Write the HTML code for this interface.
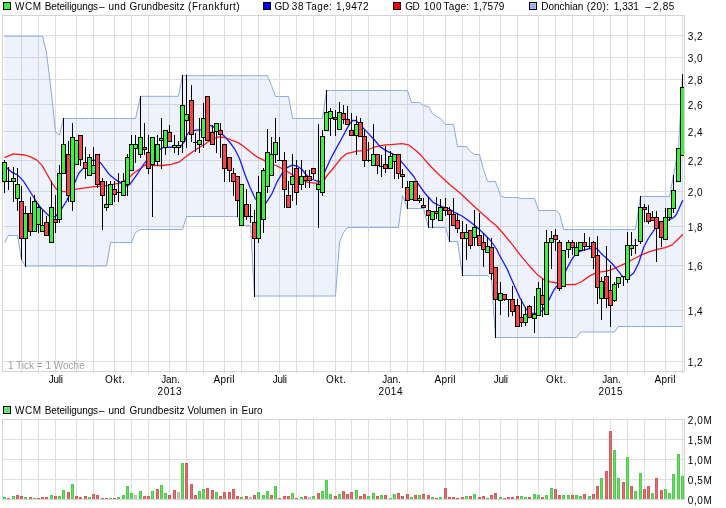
<!DOCTYPE html>
<html><head><meta charset="utf-8"><title>Chart</title><style>html,body{margin:0;padding:0;background:#fff}</style></head><body>
<svg width="726" height="508" viewBox="0 0 726 508" style="display:block;font-family:'Liberation Sans', Arial, sans-serif">
<rect width="726" height="508" fill="#fff"/>
<g shape-rendering="crispEdges" fill="#dedede">
<rect x="21" y="16" width="1" height="355"/>
<rect x="38" y="16" width="1" height="355"/>
<rect x="55" y="16" width="1" height="355"/>
<rect x="76" y="16" width="1" height="355"/>
<rect x="93" y="16" width="1" height="355"/>
<rect x="114" y="16" width="1" height="355"/>
<rect x="131" y="16" width="1" height="355"/>
<rect x="148" y="16" width="1" height="355"/>
<rect x="169" y="16" width="1" height="355"/>
<rect x="186" y="16" width="1" height="355"/>
<rect x="203" y="16" width="1" height="355"/>
<rect x="224" y="16" width="1" height="355"/>
<rect x="241" y="16" width="1" height="355"/>
<rect x="258" y="16" width="1" height="355"/>
<rect x="279" y="16" width="1" height="355"/>
<rect x="296" y="16" width="1" height="355"/>
<rect x="313" y="16" width="1" height="355"/>
<rect x="335" y="16" width="1" height="355"/>
<rect x="351" y="16" width="1" height="355"/>
<rect x="368" y="16" width="1" height="355"/>
<rect x="390" y="16" width="1" height="355"/>
<rect x="407" y="16" width="1" height="355"/>
<rect x="423" y="16" width="1" height="355"/>
<rect x="445" y="16" width="1" height="355"/>
<rect x="462" y="16" width="1" height="355"/>
<rect x="479" y="16" width="1" height="355"/>
<rect x="500" y="16" width="1" height="355"/>
<rect x="517" y="16" width="1" height="355"/>
<rect x="538" y="16" width="1" height="355"/>
<rect x="555" y="16" width="1" height="355"/>
<rect x="572" y="16" width="1" height="355"/>
<rect x="593" y="16" width="1" height="355"/>
<rect x="610" y="16" width="1" height="355"/>
<rect x="627" y="16" width="1" height="355"/>
<rect x="644" y="16" width="1" height="355"/>
<rect x="665" y="16" width="1" height="355"/>
<rect x="682" y="16" width="1" height="355"/>
<rect x="3" y="35" width="681" height="1"/>
<rect x="3" y="57" width="681" height="1"/>
<rect x="3" y="79" width="681" height="1"/>
<rect x="3" y="104" width="681" height="1"/>
<rect x="3" y="131" width="681" height="1"/>
<rect x="3" y="160" width="681" height="1"/>
<rect x="3" y="191" width="681" height="1"/>
<rect x="3" y="226" width="681" height="1"/>
<rect x="3" y="265" width="681" height="1"/>
<rect x="3" y="310" width="681" height="1"/>
<rect x="3" y="361" width="681" height="1"/>
<rect x="21" y="420" width="1" height="79"/>
<rect x="38" y="420" width="1" height="79"/>
<rect x="55" y="420" width="1" height="79"/>
<rect x="76" y="420" width="1" height="79"/>
<rect x="93" y="420" width="1" height="79"/>
<rect x="114" y="420" width="1" height="79"/>
<rect x="131" y="420" width="1" height="79"/>
<rect x="148" y="420" width="1" height="79"/>
<rect x="169" y="420" width="1" height="79"/>
<rect x="186" y="420" width="1" height="79"/>
<rect x="203" y="420" width="1" height="79"/>
<rect x="224" y="420" width="1" height="79"/>
<rect x="241" y="420" width="1" height="79"/>
<rect x="258" y="420" width="1" height="79"/>
<rect x="279" y="420" width="1" height="79"/>
<rect x="296" y="420" width="1" height="79"/>
<rect x="313" y="420" width="1" height="79"/>
<rect x="335" y="420" width="1" height="79"/>
<rect x="351" y="420" width="1" height="79"/>
<rect x="368" y="420" width="1" height="79"/>
<rect x="390" y="420" width="1" height="79"/>
<rect x="407" y="420" width="1" height="79"/>
<rect x="423" y="420" width="1" height="79"/>
<rect x="445" y="420" width="1" height="79"/>
<rect x="462" y="420" width="1" height="79"/>
<rect x="479" y="420" width="1" height="79"/>
<rect x="500" y="420" width="1" height="79"/>
<rect x="517" y="420" width="1" height="79"/>
<rect x="538" y="420" width="1" height="79"/>
<rect x="555" y="420" width="1" height="79"/>
<rect x="572" y="420" width="1" height="79"/>
<rect x="593" y="420" width="1" height="79"/>
<rect x="610" y="420" width="1" height="79"/>
<rect x="627" y="420" width="1" height="79"/>
<rect x="644" y="420" width="1" height="79"/>
<rect x="665" y="420" width="1" height="79"/>
<rect x="682" y="420" width="1" height="79"/>
<rect x="3" y="439" width="681" height="1"/>
<rect x="3" y="459" width="681" height="1"/>
<rect x="3" y="479" width="681" height="1"/>
</g>
<clipPath id="cp"><rect x="3" y="16" width="681" height="355"/></clipPath>
<g clip-path="url(#cp)">
<polygon points="4.5,36.2 8.5,36.2 13.5,36.2 17.5,36.2 21.5,36.2 25.5,36.2 30.5,36.2 34.5,36.2 38.5,36.2 42.5,36.2 46.5,52.6 51.5,94.0 55.5,131.8 59.5,135.1 63.5,118.5 68.5,118.5 72.5,118.5 76.5,118.5 80.5,118.5 85.5,118.5 89.5,118.5 93.5,118.5 97.5,118.5 102.5,118.5 106.5,118.5 110.5,118.5 114.5,118.5 118.5,118.5 123.5,118.5 127.5,118.5 131.5,118.5 135.5,118.5 140.5,96.3 144.5,96.3 148.5,96.3 152.5,96.3 157.5,96.3 161.5,96.3 165.5,96.3 169.5,96.3 174.5,96.3 178.5,96.3 182.5,75.7 186.5,75.7 191.5,75.7 195.5,75.7 199.5,75.7 203.5,75.7 207.5,75.7 212.5,75.7 216.5,75.7 220.5,75.7 224.5,75.7 229.5,75.7 233.5,75.7 237.5,75.7 241.5,75.7 246.5,75.7 250.5,75.7 254.5,75.7 258.5,75.7 263.5,75.7 267.5,75.7 271.5,85.5 275.5,96.5 279.5,96.5 284.5,96.5 288.5,96.5 292.5,118.5 296.5,118.5 301.5,118.5 305.5,118.5 309.5,118.5 313.5,118.5 318.5,118.5 322.5,118.5 326.5,90.5 330.5,90.5 335.5,90.5 339.5,90.5 343.5,90.5 347.5,90.5 351.5,90.5 356.5,90.5 360.5,90.5 364.5,90.5 368.5,90.5 373.5,90.5 377.5,90.5 381.5,90.5 385.5,90.5 390.5,90.5 394.5,90.5 398.5,90.5 402.5,90.5 407.5,90.5 411.5,102.5 415.5,102.5 419.5,102.5 423.5,105.5 428.5,106.5 432.5,113.5 436.5,116.5 440.5,118.5 445.5,124.5 449.5,124.5 453.5,124.5 457.5,146.5 462.5,146.5 466.5,146.5 470.5,151.5 474.5,154.5 479.5,154.5 483.5,169.5 487.5,181.5 491.5,181.5 495.5,181.5 500.5,195.5 504.5,197.5 508.5,197.5 512.5,197.5 517.5,197.5 521.5,198.5 525.5,198.5 529.5,198.5 534.5,198.5 538.5,210.5 542.5,210.5 546.5,210.5 551.5,210.5 555.5,210.5 559.5,213.5 563.5,229.5 568.5,229.5 572.5,229.5 576.5,229.5 580.5,229.5 584.5,229.5 589.5,229.5 593.5,229.5 597.5,229.5 601.5,229.5 606.5,229.5 610.5,229.5 614.5,229.5 618.5,229.5 623.5,229.5 627.5,229.5 631.5,229.5 635.5,229.5 640.5,196.5 644.5,196.5 648.5,196.5 652.5,196.5 656.5,196.5 661.5,196.5 665.5,196.5 669.5,196.5 673.5,175.5 678.5,148.5 682.5,74.5 682.5,326.5 678.5,326.5 673.5,326.5 669.5,326.5 665.5,326.5 661.5,326.5 656.5,326.5 652.5,326.5 648.5,326.5 644.5,326.5 640.5,326.5 635.5,326.5 631.5,326.5 627.5,326.5 623.5,326.5 618.5,326.5 614.5,332.0 610.5,332.0 606.5,332.0 601.5,332.0 597.5,332.0 593.5,332.0 589.5,332.0 584.5,332.0 580.5,332.0 576.5,337.5 572.5,337.5 568.5,337.5 563.5,337.5 559.5,337.5 555.5,337.5 551.5,337.5 546.5,337.5 542.5,337.5 538.5,337.5 534.5,337.5 529.5,337.5 525.5,337.5 521.5,337.5 517.5,337.5 512.5,337.5 508.5,337.5 504.5,337.5 500.5,337.5 495.5,337.5 491.5,279.5 487.5,275.5 483.5,275.5 479.5,275.5 474.5,275.5 470.5,275.5 466.5,275.5 462.5,275.5 457.5,241.5 453.5,241.5 449.5,241.5 445.5,227.5 440.5,227.5 436.5,227.5 432.5,227.5 428.5,227.5 423.5,208.5 419.5,208.5 415.5,208.5 411.5,208.5 407.5,208.5 402.5,195.5 398.5,227.5 394.5,227.5 390.5,227.5 385.5,227.5 381.5,227.5 377.5,227.5 373.5,227.5 368.5,227.5 364.5,227.5 360.5,227.5 356.5,227.5 351.5,227.5 347.5,227.5 343.5,232.5 339.5,242.5 335.5,296.0 330.5,296.0 326.5,296.0 322.5,296.0 318.5,296.0 313.5,296.0 309.5,296.0 305.5,296.0 301.5,296.0 296.5,296.0 292.5,296.0 288.5,296.0 284.5,296.0 279.5,296.0 275.5,296.0 271.5,296.0 267.5,296.0 263.5,296.0 258.5,296.0 254.5,296.0 250.5,225.5 246.5,225.5 241.5,225.5 237.5,216.5 233.5,216.5 229.5,216.5 224.5,216.5 220.5,216.5 216.5,216.5 212.5,216.5 207.5,216.5 203.5,216.5 199.5,216.5 195.5,216.5 191.5,216.5 186.5,216.5 182.5,229.5 178.5,229.5 174.5,229.5 169.5,229.5 165.5,229.5 161.5,229.5 157.5,229.5 152.5,229.5 148.5,229.5 144.5,229.5 140.5,229.5 135.5,232.5 131.5,242.5 127.5,242.5 123.5,242.5 118.5,242.5 114.5,242.5 110.5,242.5 106.5,266.0 102.5,266.0 97.5,266.0 93.5,266.0 89.5,266.0 85.5,266.0 80.5,266.0 76.5,266.0 72.5,266.0 68.5,266.0 63.5,266.0 59.5,266.0 55.5,266.0 51.5,266.0 46.5,266.0 42.5,266.0 38.5,266.0 34.5,266.0 30.5,266.0 25.5,266.0 21.5,259.5 17.5,235.5 13.5,235.5 8.5,235.5 4.5,242.7" fill="rgba(110,155,240,0.125)"/>
</g>
<g shape-rendering="crispEdges" fill="none" stroke="#d4d4d4" stroke-width="1">
<rect x="2.5" y="15.5" width="682" height="356"/>
<rect x="2.5" y="419.5" width="682" height="80"/>
</g>
<g shape-rendering="crispEdges" fill="#d4d4d4">
<rect x="21" y="372" width="1" height="1"/>
<rect x="38" y="372" width="1" height="1"/>
<rect x="55" y="372" width="1" height="1"/>
<rect x="76" y="372" width="1" height="1"/>
<rect x="93" y="372" width="1" height="1"/>
<rect x="114" y="372" width="1" height="1"/>
<rect x="131" y="372" width="1" height="1"/>
<rect x="148" y="372" width="1" height="1"/>
<rect x="169" y="372" width="1" height="1"/>
<rect x="186" y="372" width="1" height="1"/>
<rect x="203" y="372" width="1" height="1"/>
<rect x="224" y="372" width="1" height="1"/>
<rect x="241" y="372" width="1" height="1"/>
<rect x="258" y="372" width="1" height="1"/>
<rect x="279" y="372" width="1" height="1"/>
<rect x="296" y="372" width="1" height="1"/>
<rect x="313" y="372" width="1" height="1"/>
<rect x="335" y="372" width="1" height="1"/>
<rect x="351" y="372" width="1" height="1"/>
<rect x="368" y="372" width="1" height="1"/>
<rect x="390" y="372" width="1" height="1"/>
<rect x="407" y="372" width="1" height="1"/>
<rect x="423" y="372" width="1" height="1"/>
<rect x="445" y="372" width="1" height="1"/>
<rect x="462" y="372" width="1" height="1"/>
<rect x="479" y="372" width="1" height="1"/>
<rect x="500" y="372" width="1" height="1"/>
<rect x="517" y="372" width="1" height="1"/>
<rect x="538" y="372" width="1" height="1"/>
<rect x="555" y="372" width="1" height="1"/>
<rect x="572" y="372" width="1" height="1"/>
<rect x="593" y="372" width="1" height="1"/>
<rect x="610" y="372" width="1" height="1"/>
<rect x="627" y="372" width="1" height="1"/>
<rect x="644" y="372" width="1" height="1"/>
<rect x="665" y="372" width="1" height="1"/>
<rect x="682" y="372" width="1" height="1"/>
</g>
<g clip-path="url(#cp)">
<polyline points="4.5,36.2 8.5,36.2 13.5,36.2 17.5,36.2 21.5,36.2 25.5,36.2 30.5,36.2 34.5,36.2 38.5,36.2 42.5,36.2 46.5,52.6 51.5,94.0 55.5,131.8 59.5,135.1 63.5,118.5 68.5,118.5 72.5,118.5 76.5,118.5 80.5,118.5 85.5,118.5 89.5,118.5 93.5,118.5 97.5,118.5 102.5,118.5 106.5,118.5 110.5,118.5 114.5,118.5 118.5,118.5 123.5,118.5 127.5,118.5 131.5,118.5 135.5,118.5 140.5,96.3 144.5,96.3 148.5,96.3 152.5,96.3 157.5,96.3 161.5,96.3 165.5,96.3 169.5,96.3 174.5,96.3 178.5,96.3 182.5,75.7 186.5,75.7 191.5,75.7 195.5,75.7 199.5,75.7 203.5,75.7 207.5,75.7 212.5,75.7 216.5,75.7 220.5,75.7 224.5,75.7 229.5,75.7 233.5,75.7 237.5,75.7 241.5,75.7 246.5,75.7 250.5,75.7 254.5,75.7 258.5,75.7 263.5,75.7 267.5,75.7 271.5,85.5 275.5,96.5 279.5,96.5 284.5,96.5 288.5,96.5 292.5,118.5 296.5,118.5 301.5,118.5 305.5,118.5 309.5,118.5 313.5,118.5 318.5,118.5 322.5,118.5 326.5,90.5 330.5,90.5 335.5,90.5 339.5,90.5 343.5,90.5 347.5,90.5 351.5,90.5 356.5,90.5 360.5,90.5 364.5,90.5 368.5,90.5 373.5,90.5 377.5,90.5 381.5,90.5 385.5,90.5 390.5,90.5 394.5,90.5 398.5,90.5 402.5,90.5 407.5,90.5 411.5,102.5 415.5,102.5 419.5,102.5 423.5,105.5 428.5,106.5 432.5,113.5 436.5,116.5 440.5,118.5 445.5,124.5 449.5,124.5 453.5,124.5 457.5,146.5 462.5,146.5 466.5,146.5 470.5,151.5 474.5,154.5 479.5,154.5 483.5,169.5 487.5,181.5 491.5,181.5 495.5,181.5 500.5,195.5 504.5,197.5 508.5,197.5 512.5,197.5 517.5,197.5 521.5,198.5 525.5,198.5 529.5,198.5 534.5,198.5 538.5,210.5 542.5,210.5 546.5,210.5 551.5,210.5 555.5,210.5 559.5,213.5 563.5,229.5 568.5,229.5 572.5,229.5 576.5,229.5 580.5,229.5 584.5,229.5 589.5,229.5 593.5,229.5 597.5,229.5 601.5,229.5 606.5,229.5 610.5,229.5 614.5,229.5 618.5,229.5 623.5,229.5 627.5,229.5 631.5,229.5 635.5,229.5 640.5,196.5 644.5,196.5 648.5,196.5 652.5,196.5 656.5,196.5 661.5,196.5 665.5,196.5 669.5,196.5 673.5,175.5 678.5,148.5 682.5,74.5" fill="none" stroke="#8ea9e0" stroke-width="1"/>
<polyline points="4.5,242.7 8.5,235.5 13.5,235.5 17.5,235.5 21.5,259.5 25.5,266.0 30.5,266.0 34.5,266.0 38.5,266.0 42.5,266.0 46.5,266.0 51.5,266.0 55.5,266.0 59.5,266.0 63.5,266.0 68.5,266.0 72.5,266.0 76.5,266.0 80.5,266.0 85.5,266.0 89.5,266.0 93.5,266.0 97.5,266.0 102.5,266.0 106.5,266.0 110.5,242.5 114.5,242.5 118.5,242.5 123.5,242.5 127.5,242.5 131.5,242.5 135.5,232.5 140.5,229.5 144.5,229.5 148.5,229.5 152.5,229.5 157.5,229.5 161.5,229.5 165.5,229.5 169.5,229.5 174.5,229.5 178.5,229.5 182.5,229.5 186.5,216.5 191.5,216.5 195.5,216.5 199.5,216.5 203.5,216.5 207.5,216.5 212.5,216.5 216.5,216.5 220.5,216.5 224.5,216.5 229.5,216.5 233.5,216.5 237.5,216.5 241.5,225.5 246.5,225.5 250.5,225.5 254.5,296.0 258.5,296.0 263.5,296.0 267.5,296.0 271.5,296.0 275.5,296.0 279.5,296.0 284.5,296.0 288.5,296.0 292.5,296.0 296.5,296.0 301.5,296.0 305.5,296.0 309.5,296.0 313.5,296.0 318.5,296.0 322.5,296.0 326.5,296.0 330.5,296.0 335.5,296.0 339.5,242.5 343.5,232.5 347.5,227.5 351.5,227.5 356.5,227.5 360.5,227.5 364.5,227.5 368.5,227.5 373.5,227.5 377.5,227.5 381.5,227.5 385.5,227.5 390.5,227.5 394.5,227.5 398.5,227.5 402.5,195.5 407.5,208.5 411.5,208.5 415.5,208.5 419.5,208.5 423.5,208.5 428.5,227.5 432.5,227.5 436.5,227.5 440.5,227.5 445.5,227.5 449.5,241.5 453.5,241.5 457.5,241.5 462.5,275.5 466.5,275.5 470.5,275.5 474.5,275.5 479.5,275.5 483.5,275.5 487.5,275.5 491.5,279.5 495.5,337.5 500.5,337.5 504.5,337.5 508.5,337.5 512.5,337.5 517.5,337.5 521.5,337.5 525.5,337.5 529.5,337.5 534.5,337.5 538.5,337.5 542.5,337.5 546.5,337.5 551.5,337.5 555.5,337.5 559.5,337.5 563.5,337.5 568.5,337.5 572.5,337.5 576.5,337.5 580.5,332.0 584.5,332.0 589.5,332.0 593.5,332.0 597.5,332.0 601.5,332.0 606.5,332.0 610.5,332.0 614.5,332.0 618.5,326.5 623.5,326.5 627.5,326.5 631.5,326.5 635.5,326.5 640.5,326.5 644.5,326.5 648.5,326.5 652.5,326.5 656.5,326.5 661.5,326.5 665.5,326.5 669.5,326.5 673.5,326.5 678.5,326.5 682.5,326.5" fill="none" stroke="#8ea9e0" stroke-width="1"/>
<polyline points="4.5,157.6 13.3,153.8 25.0,155.0 30.0,156.6 36.6,159.9 42.1,165.4 47.6,175.3 52.0,183.1 56.4,189.1 60.0,191.0 63.6,191.7 66.4,191.7 76.3,189.1 87.0,187.7 92.8,186.9 108.8,185.3 113.3,184.3 120.5,182.9 124.9,180.4 130.4,176.3 134.8,172.2 139.8,169.1 145.3,165.0 154.5,165.5 162.8,165.5 171.2,164.3 179.6,161.8 187.9,155.1 196.3,149.2 204.7,144.2 211.4,139.5 218.1,137.0 224.8,137.5 231.5,140.2 238.1,142.6 241.8,145.1 250.2,151.8 256.9,156.8 263.6,160.1 270.3,163.5 277.0,166.0 283.7,169.3 290.4,173.5 295.4,176.9 300.4,179.7 308.4,182.3 316.7,183.4 321.8,182.6 325.1,178.5 328.5,173.7 333.5,168.0 336.8,163.6 341.8,157.5 346.9,153.6 356.9,151.2 366.9,150.4 372.0,148.0 376.0,146.6 383.7,145.2 393.7,144.4 402.1,143.6 408.8,144.9 415.5,150.2 421.0,155.3 429.3,165.0 438.5,174.2 450.2,185.1 460.3,193.2 470.3,202.7 480.3,211.9 490.4,221.1 496.1,225.5 503.6,234.0 512.0,244.2 520.3,255.1 528.7,265.2 537.1,274.4 543.8,279.4 550.5,281.9 557.2,283.0 566.8,284.7 575.2,284.5 581.8,281.5 590.3,275.6 596.9,272.3 606.9,271.1 615.3,268.2 623.7,264.2 632.1,259.7 640.4,255.4 648.8,251.8 657.2,249.3 665.3,247.7 672.0,244.9 677.0,240.2 682.8,234.3" fill="none" stroke="#ff1a1a" stroke-width="1.3" stroke-linejoin="round"/>
<polyline points="4.5,166.0 6.7,167.7 12.4,172.7 17.5,174.9 23.1,180.6 28.5,189.0 33.5,197.0 38.5,205.0 41.8,208.7 48.5,215.5 55.2,216.8 61.9,208.5 66.9,200.3 68.6,196.7 73.6,185.2 78.7,173.5 83.7,167.7 88.7,161.0 93.7,160.1 100.4,162.6 108.8,173.8 110.0,175.2 115.5,179.6 121.0,182.9 127.1,186.2 130.4,183.7 134.8,177.7 139.2,171.1 143.1,165.0 146.1,161.3 154.5,152.6 162.8,147.6 171.2,147.2 179.6,147.6 184.6,141.7 186.6,135.3 188.8,132.6 192.1,130.9 196.5,130.2 200.9,129.6 205.0,127.6 209.8,125.4 212.5,126.3 218.1,130.3 224.1,135.9 229.6,142.0 235.1,149.7 239.5,158.5 240.2,160.5 245.2,175.2 250.2,187.7 255.2,198.6 258.6,202.0 266.1,202.8 272.0,193.6 277.0,181.9 282.0,173.5 287.0,167.7 292.1,165.1 297.1,166.0 302.1,169.5 305.0,173.5 310.0,178.5 316.7,181.0 321.8,181.8 325.1,171.0 330.1,160.0 333.5,153.4 341.8,138.2 349.6,123.9 352.9,120.3 356.2,120.6 366.9,131.9 373.6,139.0 380.3,146.9 387.0,151.1 393.7,154.4 400.4,160.3 407.0,168.4 413.8,176.5 416.7,181.7 425.1,193.5 433.5,202.7 440.2,206.0 448.5,208.5 455.2,212.7 461.9,216.0 470.3,221.9 477.0,227.3 483.6,233.5 491.0,241.0 497.1,250.0 498.6,253.5 506.9,268.5 513.6,283.9 520.3,298.5 526.0,309.0 531.9,313.5 536.9,313.5 542.8,310.2 548.6,300.6 553.7,290.2 557.2,285.6 561.8,278.6 566.8,268.6 571.8,259.4 576.8,252.7 583.5,250.1 590.2,248.5 596.9,248.5 601.9,254.3 606.9,258.5 612.0,263.5 617.0,269.4 622.6,276.7 628.7,277.0 633.7,273.0 638.7,263.0 643.8,247.0 648.6,238.0 655.3,228.4 661.9,221.8 669.4,219.6 673.1,218.0 675.8,215.2 678.6,209.6 681.3,203.4 682.8,200.3" fill="none" stroke="#1a1aff" stroke-width="1.3" stroke-linejoin="round"/>
</g>
<g shape-rendering="crispEdges" clip-path="url(#cp2)">
<clipPath id="cp2"><rect x="2" y="15" width="682" height="357"/></clipPath>
<rect x="4" y="160" width="1" height="33" fill="#000"/>
<rect x="2" y="162" width="5" height="20" fill="#000"/>
<rect x="3" y="163" width="3" height="18" fill="#3cf23c"/>
<rect x="8" y="167" width="1" height="23" fill="#000"/>
<rect x="6" y="181" width="5" height="1" fill="#000"/>
<rect x="13" y="167" width="1" height="35" fill="#000"/>
<rect x="11" y="178" width="5" height="4" fill="#000"/>
<rect x="12" y="179" width="3" height="2" fill="#3cf23c"/>
<rect x="17" y="168" width="1" height="43" fill="#000"/>
<rect x="15" y="184" width="5" height="15" fill="#000"/>
<rect x="16" y="185" width="3" height="13" fill="#3cf23c"/>
<rect x="21" y="186" width="1" height="74" fill="#000"/>
<rect x="19" y="201" width="5" height="38" fill="#000"/>
<rect x="20" y="202" width="3" height="36" fill="#f84444"/>
<rect x="25" y="206" width="1" height="61" fill="#000"/>
<rect x="23" y="213" width="5" height="26" fill="#000"/>
<rect x="24" y="214" width="3" height="24" fill="#3cf23c"/>
<rect x="30" y="197" width="1" height="39" fill="#000"/>
<rect x="28" y="213" width="5" height="19" fill="#000"/>
<rect x="29" y="214" width="3" height="17" fill="#f84444"/>
<rect x="34" y="195" width="1" height="37" fill="#000"/>
<rect x="32" y="201" width="5" height="31" fill="#000"/>
<rect x="33" y="202" width="3" height="29" fill="#3cf23c"/>
<rect x="38" y="204" width="1" height="29" fill="#000"/>
<rect x="36" y="207" width="5" height="18" fill="#000"/>
<rect x="37" y="208" width="3" height="16" fill="#3cf23c"/>
<rect x="42" y="210" width="1" height="22" fill="#000"/>
<rect x="40" y="225" width="5" height="7" fill="#000"/>
<rect x="41" y="226" width="3" height="5" fill="#3cf23c"/>
<rect x="46" y="216" width="1" height="20" fill="#000"/>
<rect x="44" y="222" width="5" height="14" fill="#000"/>
<rect x="45" y="223" width="3" height="12" fill="#f84444"/>
<rect x="51" y="181" width="1" height="62" fill="#000"/>
<rect x="49" y="207" width="5" height="36" fill="#000"/>
<rect x="50" y="208" width="3" height="34" fill="#3cf23c"/>
<rect x="55" y="195" width="1" height="38" fill="#000"/>
<rect x="53" y="219" width="5" height="4" fill="#000"/>
<rect x="54" y="220" width="3" height="2" fill="#f84444"/>
<rect x="59" y="165" width="1" height="58" fill="#000"/>
<rect x="57" y="173" width="5" height="47" fill="#000"/>
<rect x="58" y="174" width="3" height="45" fill="#3cf23c"/>
<rect x="63" y="118" width="1" height="56" fill="#000"/>
<rect x="61" y="144" width="5" height="30" fill="#000"/>
<rect x="62" y="145" width="3" height="28" fill="#3cf23c"/>
<rect x="68" y="141" width="1" height="61" fill="#000"/>
<rect x="66" y="154" width="5" height="42" fill="#000"/>
<rect x="67" y="155" width="3" height="40" fill="#f84444"/>
<rect x="72" y="123" width="1" height="88" fill="#000"/>
<rect x="70" y="137" width="5" height="65" fill="#000"/>
<rect x="71" y="138" width="3" height="63" fill="#3cf23c"/>
<rect x="76" y="140" width="1" height="25" fill="#000"/>
<rect x="74" y="140" width="5" height="25" fill="#000"/>
<rect x="75" y="141" width="3" height="23" fill="#3cf23c"/>
<rect x="80" y="135" width="1" height="31" fill="#000"/>
<rect x="78" y="135" width="5" height="25" fill="#000"/>
<rect x="79" y="136" width="3" height="23" fill="#f84444"/>
<rect x="85" y="147" width="1" height="32" fill="#000"/>
<rect x="83" y="162" width="5" height="7" fill="#000"/>
<rect x="84" y="163" width="3" height="5" fill="#f84444"/>
<rect x="89" y="154" width="1" height="22" fill="#000"/>
<rect x="87" y="157" width="5" height="19" fill="#000"/>
<rect x="88" y="158" width="3" height="17" fill="#3cf23c"/>
<rect x="93" y="147" width="1" height="27" fill="#000"/>
<rect x="91" y="165" width="5" height="9" fill="#000"/>
<rect x="92" y="166" width="3" height="7" fill="#3cf23c"/>
<rect x="97" y="154" width="1" height="34" fill="#000"/>
<rect x="95" y="154" width="5" height="31" fill="#000"/>
<rect x="96" y="155" width="3" height="29" fill="#f84444"/>
<rect x="102" y="178" width="1" height="52" fill="#000"/>
<rect x="100" y="181" width="5" height="15" fill="#000"/>
<rect x="101" y="182" width="3" height="13" fill="#f84444"/>
<rect x="106" y="181" width="1" height="30" fill="#000"/>
<rect x="104" y="204" width="5" height="4" fill="#000"/>
<rect x="105" y="205" width="3" height="2" fill="#3cf23c"/>
<rect x="110" y="181" width="1" height="24" fill="#000"/>
<rect x="108" y="184" width="5" height="21" fill="#000"/>
<rect x="109" y="185" width="3" height="19" fill="#3cf23c"/>
<rect x="114" y="181" width="1" height="21" fill="#000"/>
<rect x="112" y="189" width="5" height="6" fill="#000"/>
<rect x="113" y="190" width="3" height="4" fill="#f84444"/>
<rect x="118" y="173" width="1" height="29" fill="#000"/>
<rect x="116" y="192" width="5" height="1" fill="#000"/>
<rect x="123" y="173" width="1" height="23" fill="#000"/>
<rect x="121" y="181" width="5" height="15" fill="#000"/>
<rect x="122" y="182" width="3" height="13" fill="#3cf23c"/>
<rect x="127" y="154" width="1" height="42" fill="#000"/>
<rect x="125" y="157" width="5" height="28" fill="#000"/>
<rect x="126" y="158" width="3" height="26" fill="#3cf23c"/>
<rect x="131" y="135" width="1" height="36" fill="#000"/>
<rect x="129" y="144" width="5" height="27" fill="#000"/>
<rect x="130" y="145" width="3" height="25" fill="#3cf23c"/>
<rect x="135" y="135" width="1" height="28" fill="#000"/>
<rect x="133" y="144" width="5" height="5" fill="#000"/>
<rect x="134" y="145" width="3" height="3" fill="#3cf23c"/>
<rect x="140" y="96" width="1" height="62" fill="#000"/>
<rect x="138" y="137" width="5" height="18" fill="#000"/>
<rect x="139" y="138" width="3" height="16" fill="#3cf23c"/>
<rect x="144" y="123" width="1" height="32" fill="#000"/>
<rect x="142" y="147" width="5" height="3" fill="#000"/>
<rect x="143" y="148" width="3" height="1" fill="#f84444"/>
<rect x="148" y="135" width="1" height="39" fill="#000"/>
<rect x="146" y="152" width="5" height="17" fill="#000"/>
<rect x="147" y="153" width="3" height="15" fill="#f84444"/>
<rect x="152" y="137" width="1" height="80" fill="#000"/>
<rect x="150" y="137" width="5" height="28" fill="#000"/>
<rect x="151" y="138" width="3" height="26" fill="#3cf23c"/>
<rect x="157" y="135" width="1" height="31" fill="#000"/>
<rect x="155" y="144" width="5" height="18" fill="#000"/>
<rect x="156" y="145" width="3" height="16" fill="#3cf23c"/>
<rect x="161" y="118" width="1" height="51" fill="#000"/>
<rect x="159" y="138" width="5" height="3" fill="#000"/>
<rect x="160" y="139" width="3" height="1" fill="#3cf23c"/>
<rect x="165" y="130" width="1" height="25" fill="#000"/>
<rect x="163" y="130" width="5" height="18" fill="#000"/>
<rect x="164" y="131" width="3" height="16" fill="#3cf23c"/>
<rect x="169" y="125" width="1" height="17" fill="#000"/>
<rect x="167" y="132" width="5" height="10" fill="#000"/>
<rect x="168" y="133" width="3" height="8" fill="#f84444"/>
<rect x="174" y="135" width="1" height="18" fill="#000"/>
<rect x="172" y="145" width="5" height="3" fill="#000"/>
<rect x="173" y="146" width="3" height="1" fill="#3cf23c"/>
<rect x="178" y="141" width="1" height="14" fill="#000"/>
<rect x="176" y="145" width="5" height="3" fill="#000"/>
<rect x="177" y="146" width="3" height="1" fill="#3cf23c"/>
<rect x="182" y="75" width="1" height="78" fill="#000"/>
<rect x="180" y="105" width="5" height="37" fill="#000"/>
<rect x="181" y="106" width="3" height="35" fill="#3cf23c"/>
<rect x="186" y="75" width="1" height="73" fill="#000"/>
<rect x="184" y="114" width="5" height="7" fill="#000"/>
<rect x="185" y="115" width="3" height="5" fill="#3cf23c"/>
<rect x="191" y="85" width="1" height="57" fill="#000"/>
<rect x="189" y="100" width="5" height="35" fill="#000"/>
<rect x="190" y="101" width="3" height="33" fill="#f84444"/>
<rect x="195" y="133" width="1" height="19" fill="#000"/>
<rect x="193" y="142" width="5" height="1" fill="#000"/>
<rect x="199" y="118" width="1" height="35" fill="#000"/>
<rect x="197" y="140" width="5" height="5" fill="#000"/>
<rect x="198" y="141" width="3" height="3" fill="#3cf23c"/>
<rect x="203" y="103" width="1" height="45" fill="#000"/>
<rect x="201" y="118" width="5" height="20" fill="#000"/>
<rect x="202" y="119" width="3" height="18" fill="#3cf23c"/>
<rect x="207" y="96" width="1" height="45" fill="#000"/>
<rect x="205" y="96" width="5" height="45" fill="#000"/>
<rect x="206" y="97" width="3" height="43" fill="#f84444"/>
<rect x="212" y="125" width="1" height="20" fill="#000"/>
<rect x="210" y="132" width="5" height="13" fill="#000"/>
<rect x="211" y="133" width="3" height="11" fill="#f84444"/>
<rect x="216" y="123" width="1" height="30" fill="#000"/>
<rect x="214" y="123" width="5" height="9" fill="#000"/>
<rect x="215" y="124" width="3" height="7" fill="#3cf23c"/>
<rect x="220" y="123" width="1" height="35" fill="#000"/>
<rect x="218" y="130" width="5" height="5" fill="#000"/>
<rect x="219" y="131" width="3" height="3" fill="#f84444"/>
<rect x="224" y="144" width="1" height="38" fill="#000"/>
<rect x="222" y="144" width="5" height="25" fill="#000"/>
<rect x="223" y="145" width="3" height="23" fill="#f84444"/>
<rect x="229" y="157" width="1" height="25" fill="#000"/>
<rect x="227" y="157" width="5" height="14" fill="#000"/>
<rect x="228" y="158" width="3" height="12" fill="#f84444"/>
<rect x="233" y="168" width="1" height="28" fill="#000"/>
<rect x="231" y="173" width="5" height="9" fill="#000"/>
<rect x="232" y="174" width="3" height="7" fill="#f84444"/>
<rect x="237" y="176" width="1" height="41" fill="#000"/>
<rect x="235" y="176" width="5" height="25" fill="#000"/>
<rect x="236" y="177" width="3" height="23" fill="#f84444"/>
<rect x="241" y="184" width="1" height="42" fill="#000"/>
<rect x="239" y="184" width="5" height="42" fill="#000"/>
<rect x="240" y="185" width="3" height="40" fill="#3cf23c"/>
<rect x="246" y="189" width="1" height="31" fill="#000"/>
<rect x="244" y="204" width="5" height="13" fill="#000"/>
<rect x="245" y="205" width="3" height="11" fill="#f84444"/>
<rect x="250" y="204" width="1" height="19" fill="#000"/>
<rect x="248" y="216" width="5" height="1" fill="#000"/>
<rect x="254" y="210" width="1" height="87" fill="#000"/>
<rect x="252" y="222" width="5" height="17" fill="#000"/>
<rect x="253" y="223" width="3" height="15" fill="#f84444"/>
<rect x="258" y="176" width="1" height="67" fill="#000"/>
<rect x="256" y="192" width="5" height="47" fill="#000"/>
<rect x="257" y="193" width="3" height="45" fill="#3cf23c"/>
<rect x="263" y="168" width="1" height="65" fill="#000"/>
<rect x="261" y="170" width="5" height="50" fill="#000"/>
<rect x="262" y="171" width="3" height="48" fill="#3cf23c"/>
<rect x="267" y="129" width="1" height="64" fill="#000"/>
<rect x="265" y="152" width="5" height="35" fill="#000"/>
<rect x="266" y="153" width="3" height="33" fill="#3cf23c"/>
<rect x="271" y="137" width="1" height="39" fill="#000"/>
<rect x="269" y="154" width="5" height="22" fill="#000"/>
<rect x="270" y="155" width="3" height="20" fill="#3cf23c"/>
<rect x="275" y="118" width="1" height="45" fill="#000"/>
<rect x="273" y="142" width="5" height="13" fill="#000"/>
<rect x="274" y="143" width="3" height="11" fill="#3cf23c"/>
<rect x="279" y="137" width="1" height="24" fill="#000"/>
<rect x="277" y="160" width="5" height="1" fill="#000"/>
<rect x="284" y="152" width="1" height="56" fill="#000"/>
<rect x="282" y="160" width="5" height="30" fill="#000"/>
<rect x="283" y="161" width="3" height="28" fill="#f84444"/>
<rect x="288" y="181" width="1" height="27" fill="#000"/>
<rect x="286" y="195" width="5" height="13" fill="#000"/>
<rect x="287" y="196" width="3" height="11" fill="#f84444"/>
<rect x="292" y="154" width="1" height="47" fill="#000"/>
<rect x="290" y="176" width="5" height="9" fill="#000"/>
<rect x="291" y="177" width="3" height="7" fill="#3cf23c"/>
<rect x="296" y="160" width="1" height="45" fill="#000"/>
<rect x="294" y="168" width="5" height="25" fill="#000"/>
<rect x="295" y="169" width="3" height="23" fill="#f84444"/>
<rect x="301" y="160" width="1" height="30" fill="#000"/>
<rect x="299" y="176" width="5" height="9" fill="#000"/>
<rect x="300" y="177" width="3" height="7" fill="#3cf23c"/>
<rect x="305" y="170" width="1" height="18" fill="#000"/>
<rect x="303" y="176" width="5" height="5" fill="#000"/>
<rect x="304" y="177" width="3" height="3" fill="#f84444"/>
<rect x="309" y="170" width="1" height="18" fill="#000"/>
<rect x="307" y="176" width="5" height="5" fill="#000"/>
<rect x="308" y="177" width="3" height="3" fill="#f84444"/>
<rect x="313" y="168" width="1" height="11" fill="#000"/>
<rect x="311" y="168" width="5" height="6" fill="#000"/>
<rect x="312" y="169" width="3" height="4" fill="#f84444"/>
<rect x="318" y="124" width="1" height="104" fill="#000"/>
<rect x="316" y="184" width="5" height="6" fill="#000"/>
<rect x="317" y="185" width="3" height="4" fill="#3cf23c"/>
<rect x="322" y="130" width="1" height="66" fill="#000"/>
<rect x="320" y="136" width="5" height="57" fill="#000"/>
<rect x="321" y="137" width="3" height="55" fill="#3cf23c"/>
<rect x="326" y="90" width="1" height="41" fill="#000"/>
<rect x="324" y="112" width="5" height="19" fill="#000"/>
<rect x="325" y="113" width="3" height="17" fill="#3cf23c"/>
<rect x="330" y="108" width="1" height="28" fill="#000"/>
<rect x="328" y="111" width="5" height="8" fill="#000"/>
<rect x="329" y="112" width="3" height="6" fill="#3cf23c"/>
<rect x="335" y="110" width="1" height="26" fill="#000"/>
<rect x="333" y="117" width="5" height="3" fill="#000"/>
<rect x="334" y="118" width="3" height="1" fill="#f84444"/>
<rect x="339" y="102" width="1" height="28" fill="#000"/>
<rect x="337" y="112" width="5" height="18" fill="#000"/>
<rect x="338" y="113" width="3" height="16" fill="#3cf23c"/>
<rect x="343" y="105" width="1" height="19" fill="#000"/>
<rect x="341" y="113" width="5" height="7" fill="#000"/>
<rect x="342" y="114" width="3" height="5" fill="#f84444"/>
<rect x="347" y="106" width="1" height="19" fill="#000"/>
<rect x="345" y="119" width="5" height="6" fill="#000"/>
<rect x="346" y="120" width="3" height="4" fill="#f84444"/>
<rect x="351" y="113" width="1" height="23" fill="#000"/>
<rect x="349" y="130" width="5" height="6" fill="#000"/>
<rect x="350" y="131" width="3" height="4" fill="#f84444"/>
<rect x="356" y="116" width="1" height="39" fill="#000"/>
<rect x="354" y="124" width="5" height="12" fill="#000"/>
<rect x="355" y="125" width="3" height="10" fill="#3cf23c"/>
<rect x="360" y="118" width="1" height="19" fill="#000"/>
<rect x="358" y="122" width="5" height="15" fill="#000"/>
<rect x="359" y="123" width="3" height="13" fill="#f84444"/>
<rect x="364" y="130" width="1" height="37" fill="#000"/>
<rect x="362" y="136" width="5" height="25" fill="#000"/>
<rect x="363" y="137" width="3" height="23" fill="#f84444"/>
<rect x="368" y="142" width="1" height="20" fill="#000"/>
<rect x="366" y="160" width="5" height="1" fill="#000"/>
<rect x="373" y="124" width="1" height="42" fill="#000"/>
<rect x="371" y="154" width="5" height="12" fill="#000"/>
<rect x="372" y="155" width="3" height="10" fill="#3cf23c"/>
<rect x="377" y="154" width="1" height="20" fill="#000"/>
<rect x="375" y="154" width="5" height="12" fill="#000"/>
<rect x="376" y="155" width="3" height="10" fill="#f84444"/>
<rect x="381" y="155" width="1" height="22" fill="#000"/>
<rect x="379" y="166" width="5" height="1" fill="#000"/>
<rect x="385" y="146" width="1" height="27" fill="#000"/>
<rect x="383" y="164" width="5" height="5" fill="#000"/>
<rect x="384" y="165" width="3" height="3" fill="#f84444"/>
<rect x="390" y="151" width="1" height="18" fill="#000"/>
<rect x="388" y="156" width="5" height="13" fill="#000"/>
<rect x="389" y="157" width="3" height="11" fill="#3cf23c"/>
<rect x="394" y="154" width="1" height="25" fill="#000"/>
<rect x="392" y="154" width="5" height="8" fill="#000"/>
<rect x="393" y="155" width="3" height="6" fill="#3cf23c"/>
<rect x="398" y="154" width="1" height="25" fill="#000"/>
<rect x="396" y="154" width="5" height="20" fill="#000"/>
<rect x="397" y="155" width="3" height="18" fill="#f84444"/>
<rect x="402" y="169" width="1" height="19" fill="#000"/>
<rect x="400" y="174" width="5" height="3" fill="#000"/>
<rect x="401" y="175" width="3" height="1" fill="#f84444"/>
<rect x="407" y="181" width="1" height="28" fill="#000"/>
<rect x="405" y="187" width="5" height="14" fill="#000"/>
<rect x="406" y="188" width="3" height="12" fill="#f84444"/>
<rect x="411" y="181" width="1" height="19" fill="#000"/>
<rect x="409" y="181" width="5" height="19" fill="#000"/>
<rect x="410" y="182" width="3" height="17" fill="#3cf23c"/>
<rect x="415" y="181" width="1" height="20" fill="#000"/>
<rect x="413" y="181" width="5" height="20" fill="#000"/>
<rect x="414" y="182" width="3" height="18" fill="#f84444"/>
<rect x="419" y="195" width="1" height="8" fill="#000"/>
<rect x="417" y="198" width="5" height="3" fill="#000"/>
<rect x="418" y="199" width="3" height="1" fill="#3cf23c"/>
<rect x="423" y="198" width="1" height="9" fill="#000"/>
<rect x="421" y="205" width="5" height="3" fill="#000"/>
<rect x="422" y="206" width="3" height="1" fill="#f84444"/>
<rect x="428" y="197" width="1" height="31" fill="#000"/>
<rect x="426" y="210" width="5" height="6" fill="#000"/>
<rect x="427" y="211" width="3" height="4" fill="#f84444"/>
<rect x="432" y="211" width="1" height="17" fill="#000"/>
<rect x="430" y="211" width="5" height="9" fill="#000"/>
<rect x="431" y="212" width="3" height="7" fill="#3cf23c"/>
<rect x="436" y="197" width="1" height="22" fill="#000"/>
<rect x="434" y="211" width="5" height="3" fill="#000"/>
<rect x="435" y="212" width="3" height="1" fill="#f84444"/>
<rect x="440" y="199" width="1" height="22" fill="#000"/>
<rect x="438" y="207" width="5" height="14" fill="#000"/>
<rect x="439" y="208" width="3" height="12" fill="#3cf23c"/>
<rect x="445" y="198" width="1" height="18" fill="#000"/>
<rect x="443" y="207" width="5" height="4" fill="#000"/>
<rect x="444" y="208" width="3" height="2" fill="#f84444"/>
<rect x="449" y="207" width="1" height="35" fill="#000"/>
<rect x="447" y="210" width="5" height="5" fill="#000"/>
<rect x="448" y="211" width="3" height="3" fill="#f84444"/>
<rect x="453" y="198" width="1" height="28" fill="#000"/>
<rect x="451" y="214" width="5" height="12" fill="#000"/>
<rect x="452" y="215" width="3" height="10" fill="#f84444"/>
<rect x="457" y="213" width="1" height="20" fill="#000"/>
<rect x="455" y="220" width="5" height="9" fill="#000"/>
<rect x="456" y="221" width="3" height="7" fill="#f84444"/>
<rect x="462" y="221" width="1" height="55" fill="#000"/>
<rect x="460" y="232" width="5" height="7" fill="#000"/>
<rect x="461" y="233" width="3" height="5" fill="#f84444"/>
<rect x="466" y="224" width="1" height="36" fill="#000"/>
<rect x="464" y="232" width="5" height="7" fill="#000"/>
<rect x="465" y="233" width="3" height="5" fill="#3cf23c"/>
<rect x="470" y="230" width="1" height="19" fill="#000"/>
<rect x="468" y="230" width="5" height="16" fill="#000"/>
<rect x="469" y="231" width="3" height="14" fill="#f84444"/>
<rect x="474" y="210" width="1" height="36" fill="#000"/>
<rect x="472" y="227" width="5" height="11" fill="#000"/>
<rect x="473" y="228" width="3" height="9" fill="#3cf23c"/>
<rect x="479" y="213" width="1" height="33" fill="#000"/>
<rect x="477" y="235" width="5" height="11" fill="#000"/>
<rect x="478" y="236" width="3" height="9" fill="#f84444"/>
<rect x="483" y="233" width="1" height="34" fill="#000"/>
<rect x="481" y="242" width="5" height="8" fill="#000"/>
<rect x="482" y="243" width="3" height="6" fill="#f84444"/>
<rect x="487" y="237" width="1" height="16" fill="#000"/>
<rect x="485" y="246" width="5" height="7" fill="#000"/>
<rect x="486" y="247" width="3" height="5" fill="#3cf23c"/>
<rect x="491" y="238" width="1" height="42" fill="#000"/>
<rect x="489" y="247" width="5" height="27" fill="#000"/>
<rect x="490" y="248" width="3" height="25" fill="#f84444"/>
<rect x="495" y="267" width="1" height="71" fill="#000"/>
<rect x="493" y="267" width="5" height="33" fill="#000"/>
<rect x="494" y="268" width="3" height="31" fill="#f84444"/>
<rect x="500" y="282" width="1" height="33" fill="#000"/>
<rect x="498" y="293" width="5" height="8" fill="#000"/>
<rect x="499" y="294" width="3" height="6" fill="#3cf23c"/>
<rect x="504" y="294" width="1" height="7" fill="#000"/>
<rect x="502" y="294" width="5" height="6" fill="#000"/>
<rect x="503" y="295" width="3" height="4" fill="#f84444"/>
<rect x="508" y="299" width="1" height="18" fill="#000"/>
<rect x="506" y="299" width="5" height="1" fill="#000"/>
<rect x="512" y="286" width="1" height="30" fill="#000"/>
<rect x="510" y="299" width="5" height="13" fill="#000"/>
<rect x="511" y="300" width="3" height="11" fill="#f84444"/>
<rect x="517" y="299" width="1" height="28" fill="#000"/>
<rect x="515" y="305" width="5" height="22" fill="#000"/>
<rect x="516" y="306" width="3" height="20" fill="#f84444"/>
<rect x="521" y="299" width="1" height="28" fill="#000"/>
<rect x="519" y="317" width="5" height="6" fill="#000"/>
<rect x="520" y="318" width="3" height="4" fill="#f84444"/>
<rect x="525" y="307" width="1" height="19" fill="#000"/>
<rect x="523" y="314" width="5" height="9" fill="#000"/>
<rect x="524" y="315" width="3" height="7" fill="#3cf23c"/>
<rect x="529" y="305" width="1" height="13" fill="#000"/>
<rect x="527" y="306" width="5" height="12" fill="#000"/>
<rect x="528" y="307" width="3" height="10" fill="#f84444"/>
<rect x="534" y="296" width="1" height="37" fill="#000"/>
<rect x="532" y="314" width="5" height="5" fill="#000"/>
<rect x="533" y="315" width="3" height="3" fill="#3cf23c"/>
<rect x="538" y="282" width="1" height="34" fill="#000"/>
<rect x="536" y="288" width="5" height="28" fill="#000"/>
<rect x="537" y="289" width="3" height="26" fill="#3cf23c"/>
<rect x="542" y="279" width="1" height="38" fill="#000"/>
<rect x="540" y="295" width="5" height="10" fill="#000"/>
<rect x="541" y="296" width="3" height="8" fill="#f84444"/>
<rect x="546" y="230" width="1" height="85" fill="#000"/>
<rect x="544" y="242" width="5" height="73" fill="#000"/>
<rect x="545" y="243" width="3" height="71" fill="#3cf23c"/>
<rect x="551" y="231" width="1" height="38" fill="#000"/>
<rect x="549" y="238" width="5" height="5" fill="#000"/>
<rect x="550" y="239" width="3" height="3" fill="#3cf23c"/>
<rect x="555" y="229" width="1" height="22" fill="#000"/>
<rect x="553" y="235" width="5" height="5" fill="#000"/>
<rect x="554" y="236" width="3" height="3" fill="#f84444"/>
<rect x="559" y="240" width="1" height="51" fill="#000"/>
<rect x="557" y="242" width="5" height="47" fill="#000"/>
<rect x="558" y="243" width="3" height="45" fill="#f84444"/>
<rect x="563" y="250" width="1" height="37" fill="#000"/>
<rect x="561" y="250" width="5" height="37" fill="#000"/>
<rect x="562" y="251" width="3" height="35" fill="#3cf23c"/>
<rect x="568" y="240" width="1" height="18" fill="#000"/>
<rect x="566" y="242" width="5" height="8" fill="#000"/>
<rect x="567" y="243" width="3" height="6" fill="#3cf23c"/>
<rect x="572" y="240" width="1" height="15" fill="#000"/>
<rect x="570" y="242" width="5" height="6" fill="#000"/>
<rect x="571" y="243" width="3" height="4" fill="#f84444"/>
<rect x="576" y="242" width="1" height="14" fill="#000"/>
<rect x="574" y="247" width="5" height="9" fill="#000"/>
<rect x="575" y="248" width="3" height="7" fill="#3cf23c"/>
<rect x="580" y="242" width="1" height="9" fill="#000"/>
<rect x="578" y="242" width="5" height="9" fill="#000"/>
<rect x="579" y="243" width="3" height="7" fill="#3cf23c"/>
<rect x="584" y="233" width="1" height="18" fill="#000"/>
<rect x="582" y="242" width="5" height="5" fill="#000"/>
<rect x="583" y="243" width="3" height="3" fill="#f84444"/>
<rect x="589" y="237" width="1" height="12" fill="#000"/>
<rect x="587" y="246" width="5" height="1" fill="#000"/>
<rect x="593" y="241" width="1" height="28" fill="#000"/>
<rect x="591" y="242" width="5" height="16" fill="#000"/>
<rect x="592" y="243" width="3" height="14" fill="#f84444"/>
<rect x="597" y="236" width="1" height="68" fill="#000"/>
<rect x="595" y="255" width="5" height="33" fill="#000"/>
<rect x="596" y="256" width="3" height="31" fill="#f84444"/>
<rect x="601" y="277" width="1" height="43" fill="#000"/>
<rect x="599" y="281" width="5" height="18" fill="#000"/>
<rect x="600" y="282" width="3" height="16" fill="#3cf23c"/>
<rect x="606" y="246" width="1" height="62" fill="#000"/>
<rect x="604" y="276" width="5" height="23" fill="#000"/>
<rect x="605" y="277" width="3" height="21" fill="#f84444"/>
<rect x="610" y="265" width="1" height="62" fill="#000"/>
<rect x="608" y="290" width="5" height="16" fill="#000"/>
<rect x="609" y="291" width="3" height="14" fill="#f84444"/>
<rect x="614" y="282" width="1" height="20" fill="#000"/>
<rect x="612" y="284" width="5" height="17" fill="#000"/>
<rect x="613" y="285" width="3" height="15" fill="#3cf23c"/>
<rect x="618" y="277" width="1" height="11" fill="#000"/>
<rect x="616" y="277" width="5" height="7" fill="#000"/>
<rect x="617" y="278" width="3" height="5" fill="#3cf23c"/>
<rect x="623" y="276" width="1" height="10" fill="#000"/>
<rect x="621" y="276" width="5" height="1" fill="#000"/>
<rect x="627" y="232" width="1" height="51" fill="#000"/>
<rect x="625" y="245" width="5" height="35" fill="#000"/>
<rect x="626" y="246" width="3" height="33" fill="#3cf23c"/>
<rect x="631" y="232" width="1" height="24" fill="#000"/>
<rect x="629" y="245" width="5" height="4" fill="#000"/>
<rect x="630" y="246" width="3" height="2" fill="#3cf23c"/>
<rect x="635" y="239" width="1" height="15" fill="#000"/>
<rect x="633" y="245" width="5" height="1" fill="#000"/>
<rect x="640" y="196" width="1" height="48" fill="#000"/>
<rect x="638" y="207" width="5" height="35" fill="#000"/>
<rect x="639" y="208" width="3" height="33" fill="#3cf23c"/>
<rect x="644" y="204" width="1" height="18" fill="#000"/>
<rect x="642" y="207" width="5" height="3" fill="#000"/>
<rect x="643" y="208" width="3" height="1" fill="#f84444"/>
<rect x="648" y="205" width="1" height="19" fill="#000"/>
<rect x="646" y="213" width="5" height="9" fill="#000"/>
<rect x="647" y="214" width="3" height="7" fill="#f84444"/>
<rect x="652" y="211" width="1" height="10" fill="#000"/>
<rect x="650" y="217" width="5" height="4" fill="#000"/>
<rect x="651" y="218" width="3" height="2" fill="#f84444"/>
<rect x="656" y="211" width="1" height="51" fill="#000"/>
<rect x="654" y="217" width="5" height="12" fill="#000"/>
<rect x="655" y="218" width="3" height="10" fill="#f84444"/>
<rect x="661" y="221" width="1" height="26" fill="#000"/>
<rect x="659" y="221" width="5" height="17" fill="#000"/>
<rect x="660" y="222" width="3" height="15" fill="#f84444"/>
<rect x="665" y="208" width="1" height="32" fill="#000"/>
<rect x="663" y="217" width="5" height="23" fill="#000"/>
<rect x="664" y="218" width="3" height="21" fill="#3cf23c"/>
<rect x="669" y="208" width="1" height="13" fill="#000"/>
<rect x="667" y="208" width="5" height="10" fill="#000"/>
<rect x="668" y="209" width="3" height="8" fill="#3cf23c"/>
<rect x="673" y="175" width="1" height="38" fill="#000"/>
<rect x="671" y="190" width="5" height="19" fill="#000"/>
<rect x="672" y="191" width="3" height="17" fill="#3cf23c"/>
<rect x="678" y="148" width="1" height="34" fill="#000"/>
<rect x="676" y="148" width="5" height="34" fill="#000"/>
<rect x="677" y="149" width="3" height="32" fill="#3cf23c"/>
<rect x="682" y="74" width="1" height="82" fill="#000"/>
<rect x="680" y="87" width="5" height="69" fill="#000"/>
<rect x="681" y="88" width="3" height="67" fill="#3cf23c"/>
</g>
<g shape-rendering="crispEdges">
<rect x="3" y="497" width="3" height="2" fill="#4bcf4b"/>
<rect x="4" y="498" width="1" height="1" fill="#66dc66"/>
<rect x="7" y="498" width="3" height="1" fill="#d65c5c"/>
<rect x="12" y="496" width="3" height="3" fill="#4bcf4b"/>
<rect x="13" y="497" width="1" height="2" fill="#66dc66"/>
<rect x="16" y="495" width="3" height="4" fill="#d65c5c"/>
<rect x="17" y="496" width="1" height="3" fill="#db7070"/>
<rect x="20" y="496" width="3" height="3" fill="#d65c5c"/>
<rect x="21" y="497" width="1" height="2" fill="#db7070"/>
<rect x="24" y="497" width="3" height="2" fill="#4bcf4b"/>
<rect x="25" y="498" width="1" height="1" fill="#66dc66"/>
<rect x="29" y="497" width="3" height="2" fill="#d65c5c"/>
<rect x="30" y="498" width="1" height="1" fill="#db7070"/>
<rect x="33" y="498" width="3" height="1" fill="#4bcf4b"/>
<rect x="37" y="498" width="3" height="1" fill="#d65c5c"/>
<rect x="41" y="497" width="3" height="2" fill="#d65c5c"/>
<rect x="42" y="498" width="1" height="1" fill="#db7070"/>
<rect x="45" y="497" width="3" height="2" fill="#d65c5c"/>
<rect x="46" y="498" width="1" height="1" fill="#db7070"/>
<rect x="50" y="495" width="3" height="4" fill="#4bcf4b"/>
<rect x="51" y="496" width="1" height="3" fill="#66dc66"/>
<rect x="54" y="496" width="3" height="3" fill="#d65c5c"/>
<rect x="55" y="497" width="1" height="2" fill="#db7070"/>
<rect x="58" y="496" width="3" height="3" fill="#4bcf4b"/>
<rect x="59" y="497" width="1" height="2" fill="#66dc66"/>
<rect x="62" y="490" width="3" height="9" fill="#4bcf4b"/>
<rect x="63" y="491" width="1" height="8" fill="#66dc66"/>
<rect x="67" y="492" width="3" height="7" fill="#d65c5c"/>
<rect x="68" y="493" width="1" height="6" fill="#db7070"/>
<rect x="71" y="484" width="3" height="15" fill="#4bcf4b"/>
<rect x="72" y="485" width="1" height="14" fill="#66dc66"/>
<rect x="75" y="496" width="3" height="3" fill="#d65c5c"/>
<rect x="76" y="497" width="1" height="2" fill="#db7070"/>
<rect x="79" y="497" width="3" height="2" fill="#d65c5c"/>
<rect x="80" y="498" width="1" height="1" fill="#db7070"/>
<rect x="84" y="496" width="3" height="3" fill="#d65c5c"/>
<rect x="85" y="497" width="1" height="2" fill="#db7070"/>
<rect x="88" y="497" width="3" height="2" fill="#4bcf4b"/>
<rect x="89" y="498" width="1" height="1" fill="#66dc66"/>
<rect x="92" y="494" width="3" height="5" fill="#d65c5c"/>
<rect x="93" y="495" width="1" height="4" fill="#db7070"/>
<rect x="96" y="495" width="3" height="4" fill="#d65c5c"/>
<rect x="97" y="496" width="1" height="3" fill="#db7070"/>
<rect x="101" y="498" width="3" height="1" fill="#d65c5c"/>
<rect x="105" y="498" width="3" height="1" fill="#d65c5c"/>
<rect x="109" y="498" width="3" height="1" fill="#4bcf4b"/>
<rect x="113" y="498" width="3" height="1" fill="#d65c5c"/>
<rect x="117" y="497" width="3" height="2" fill="#4bcf4b"/>
<rect x="118" y="498" width="1" height="1" fill="#66dc66"/>
<rect x="122" y="495" width="3" height="4" fill="#4bcf4b"/>
<rect x="123" y="496" width="1" height="3" fill="#66dc66"/>
<rect x="126" y="486" width="3" height="13" fill="#4bcf4b"/>
<rect x="127" y="487" width="1" height="12" fill="#66dc66"/>
<rect x="130" y="493" width="3" height="6" fill="#4bcf4b"/>
<rect x="131" y="494" width="1" height="5" fill="#66dc66"/>
<rect x="134" y="495" width="3" height="4" fill="#b8b8b8"/>
<rect x="135" y="496" width="1" height="3" fill="#cacaca"/>
<rect x="139" y="491" width="3" height="8" fill="#4bcf4b"/>
<rect x="140" y="492" width="1" height="7" fill="#66dc66"/>
<rect x="143" y="496" width="3" height="3" fill="#d65c5c"/>
<rect x="144" y="497" width="1" height="2" fill="#db7070"/>
<rect x="147" y="496" width="3" height="3" fill="#d65c5c"/>
<rect x="148" y="497" width="1" height="2" fill="#db7070"/>
<rect x="151" y="491" width="3" height="8" fill="#4bcf4b"/>
<rect x="152" y="492" width="1" height="7" fill="#66dc66"/>
<rect x="156" y="489" width="3" height="10" fill="#d65c5c"/>
<rect x="157" y="490" width="1" height="9" fill="#db7070"/>
<rect x="160" y="485" width="3" height="14" fill="#4bcf4b"/>
<rect x="161" y="486" width="1" height="13" fill="#66dc66"/>
<rect x="164" y="493" width="3" height="6" fill="#4bcf4b"/>
<rect x="165" y="494" width="1" height="5" fill="#66dc66"/>
<rect x="168" y="495" width="3" height="4" fill="#d65c5c"/>
<rect x="169" y="496" width="1" height="3" fill="#db7070"/>
<rect x="173" y="490" width="3" height="9" fill="#d65c5c"/>
<rect x="174" y="491" width="1" height="8" fill="#db7070"/>
<rect x="177" y="492" width="3" height="7" fill="#b8b8b8"/>
<rect x="178" y="493" width="1" height="6" fill="#cacaca"/>
<rect x="181" y="463" width="3" height="36" fill="#4bcf4b"/>
<rect x="182" y="464" width="1" height="35" fill="#66dc66"/>
<rect x="185" y="463" width="3" height="36" fill="#d65c5c"/>
<rect x="186" y="464" width="1" height="35" fill="#db7070"/>
<rect x="190" y="484" width="3" height="15" fill="#d65c5c"/>
<rect x="191" y="485" width="1" height="14" fill="#db7070"/>
<rect x="194" y="495" width="3" height="4" fill="#d65c5c"/>
<rect x="195" y="496" width="1" height="3" fill="#db7070"/>
<rect x="198" y="491" width="3" height="8" fill="#4bcf4b"/>
<rect x="199" y="492" width="1" height="7" fill="#66dc66"/>
<rect x="202" y="489" width="3" height="10" fill="#4bcf4b"/>
<rect x="203" y="490" width="1" height="9" fill="#66dc66"/>
<rect x="206" y="488" width="3" height="11" fill="#d65c5c"/>
<rect x="207" y="489" width="1" height="10" fill="#db7070"/>
<rect x="211" y="490" width="3" height="9" fill="#d65c5c"/>
<rect x="212" y="491" width="1" height="8" fill="#db7070"/>
<rect x="215" y="492" width="3" height="7" fill="#4bcf4b"/>
<rect x="216" y="493" width="1" height="6" fill="#66dc66"/>
<rect x="219" y="496" width="3" height="3" fill="#d65c5c"/>
<rect x="220" y="497" width="1" height="2" fill="#db7070"/>
<rect x="223" y="492" width="3" height="7" fill="#d65c5c"/>
<rect x="224" y="493" width="1" height="6" fill="#db7070"/>
<rect x="228" y="492" width="3" height="7" fill="#d65c5c"/>
<rect x="229" y="493" width="1" height="6" fill="#db7070"/>
<rect x="232" y="489" width="3" height="10" fill="#d65c5c"/>
<rect x="233" y="490" width="1" height="9" fill="#db7070"/>
<rect x="236" y="496" width="3" height="3" fill="#d65c5c"/>
<rect x="237" y="497" width="1" height="2" fill="#db7070"/>
<rect x="240" y="497" width="3" height="2" fill="#4bcf4b"/>
<rect x="241" y="498" width="1" height="1" fill="#66dc66"/>
<rect x="245" y="496" width="3" height="3" fill="#d65c5c"/>
<rect x="246" y="497" width="1" height="2" fill="#db7070"/>
<rect x="249" y="497" width="3" height="2" fill="#b8b8b8"/>
<rect x="250" y="498" width="1" height="1" fill="#cacaca"/>
<rect x="253" y="495" width="3" height="4" fill="#d65c5c"/>
<rect x="254" y="496" width="1" height="3" fill="#db7070"/>
<rect x="257" y="492" width="3" height="7" fill="#4bcf4b"/>
<rect x="258" y="493" width="1" height="6" fill="#66dc66"/>
<rect x="262" y="495" width="3" height="4" fill="#4bcf4b"/>
<rect x="263" y="496" width="1" height="3" fill="#66dc66"/>
<rect x="266" y="491" width="3" height="8" fill="#4bcf4b"/>
<rect x="267" y="492" width="1" height="7" fill="#66dc66"/>
<rect x="270" y="495" width="3" height="4" fill="#d65c5c"/>
<rect x="271" y="496" width="1" height="3" fill="#db7070"/>
<rect x="274" y="486" width="3" height="13" fill="#4bcf4b"/>
<rect x="275" y="487" width="1" height="12" fill="#66dc66"/>
<rect x="278" y="498" width="3" height="1" fill="#d65c5c"/>
<rect x="283" y="496" width="3" height="3" fill="#d65c5c"/>
<rect x="284" y="497" width="1" height="2" fill="#db7070"/>
<rect x="287" y="496" width="3" height="3" fill="#d65c5c"/>
<rect x="288" y="497" width="1" height="2" fill="#db7070"/>
<rect x="291" y="493" width="3" height="6" fill="#4bcf4b"/>
<rect x="292" y="494" width="1" height="5" fill="#66dc66"/>
<rect x="295" y="498" width="3" height="1" fill="#d65c5c"/>
<rect x="300" y="497" width="3" height="2" fill="#4bcf4b"/>
<rect x="301" y="498" width="1" height="1" fill="#66dc66"/>
<rect x="304" y="496" width="3" height="3" fill="#d65c5c"/>
<rect x="305" y="497" width="1" height="2" fill="#db7070"/>
<rect x="308" y="497" width="3" height="2" fill="#b8b8b8"/>
<rect x="309" y="498" width="1" height="1" fill="#cacaca"/>
<rect x="312" y="496" width="3" height="3" fill="#4bcf4b"/>
<rect x="313" y="497" width="1" height="2" fill="#66dc66"/>
<rect x="317" y="493" width="3" height="6" fill="#d65c5c"/>
<rect x="318" y="494" width="1" height="5" fill="#db7070"/>
<rect x="321" y="491" width="3" height="8" fill="#4bcf4b"/>
<rect x="322" y="492" width="1" height="7" fill="#66dc66"/>
<rect x="325" y="480" width="3" height="19" fill="#4bcf4b"/>
<rect x="326" y="481" width="1" height="18" fill="#66dc66"/>
<rect x="329" y="494" width="3" height="5" fill="#4bcf4b"/>
<rect x="330" y="495" width="1" height="4" fill="#66dc66"/>
<rect x="334" y="496" width="3" height="3" fill="#d65c5c"/>
<rect x="335" y="497" width="1" height="2" fill="#db7070"/>
<rect x="338" y="494" width="3" height="5" fill="#4bcf4b"/>
<rect x="339" y="495" width="1" height="4" fill="#66dc66"/>
<rect x="342" y="491" width="3" height="8" fill="#d65c5c"/>
<rect x="343" y="492" width="1" height="7" fill="#db7070"/>
<rect x="346" y="494" width="3" height="5" fill="#d65c5c"/>
<rect x="347" y="495" width="1" height="4" fill="#db7070"/>
<rect x="350" y="492" width="3" height="7" fill="#d65c5c"/>
<rect x="351" y="493" width="1" height="6" fill="#db7070"/>
<rect x="355" y="490" width="3" height="9" fill="#4bcf4b"/>
<rect x="356" y="491" width="1" height="8" fill="#66dc66"/>
<rect x="359" y="496" width="3" height="3" fill="#d65c5c"/>
<rect x="360" y="497" width="1" height="2" fill="#db7070"/>
<rect x="363" y="494" width="3" height="5" fill="#d65c5c"/>
<rect x="364" y="495" width="1" height="4" fill="#db7070"/>
<rect x="367" y="496" width="3" height="3" fill="#4bcf4b"/>
<rect x="368" y="497" width="1" height="2" fill="#66dc66"/>
<rect x="372" y="493" width="3" height="6" fill="#4bcf4b"/>
<rect x="373" y="494" width="1" height="5" fill="#66dc66"/>
<rect x="376" y="496" width="3" height="3" fill="#d65c5c"/>
<rect x="377" y="497" width="1" height="2" fill="#db7070"/>
<rect x="380" y="495" width="3" height="4" fill="#4bcf4b"/>
<rect x="381" y="496" width="1" height="3" fill="#66dc66"/>
<rect x="384" y="495" width="3" height="4" fill="#d65c5c"/>
<rect x="385" y="496" width="1" height="3" fill="#db7070"/>
<rect x="389" y="498" width="3" height="1" fill="#4bcf4b"/>
<rect x="393" y="494" width="3" height="5" fill="#4bcf4b"/>
<rect x="394" y="495" width="1" height="4" fill="#66dc66"/>
<rect x="397" y="493" width="3" height="6" fill="#d65c5c"/>
<rect x="398" y="494" width="1" height="5" fill="#db7070"/>
<rect x="401" y="496" width="3" height="3" fill="#d65c5c"/>
<rect x="402" y="497" width="1" height="2" fill="#db7070"/>
<rect x="406" y="494" width="3" height="5" fill="#d65c5c"/>
<rect x="407" y="495" width="1" height="4" fill="#db7070"/>
<rect x="410" y="497" width="3" height="2" fill="#4bcf4b"/>
<rect x="411" y="498" width="1" height="1" fill="#66dc66"/>
<rect x="414" y="495" width="3" height="4" fill="#d65c5c"/>
<rect x="415" y="496" width="1" height="3" fill="#db7070"/>
<rect x="418" y="495" width="3" height="4" fill="#4bcf4b"/>
<rect x="419" y="496" width="1" height="3" fill="#66dc66"/>
<rect x="422" y="494" width="3" height="5" fill="#d65c5c"/>
<rect x="423" y="495" width="1" height="4" fill="#db7070"/>
<rect x="427" y="495" width="3" height="4" fill="#d65c5c"/>
<rect x="428" y="496" width="1" height="3" fill="#db7070"/>
<rect x="431" y="497" width="3" height="2" fill="#4bcf4b"/>
<rect x="432" y="498" width="1" height="1" fill="#66dc66"/>
<rect x="435" y="498" width="3" height="1" fill="#d65c5c"/>
<rect x="439" y="497" width="3" height="2" fill="#4bcf4b"/>
<rect x="440" y="498" width="1" height="1" fill="#66dc66"/>
<rect x="444" y="488" width="3" height="11" fill="#d65c5c"/>
<rect x="445" y="489" width="1" height="10" fill="#db7070"/>
<rect x="448" y="497" width="3" height="2" fill="#d65c5c"/>
<rect x="449" y="498" width="1" height="1" fill="#db7070"/>
<rect x="452" y="497" width="3" height="2" fill="#d65c5c"/>
<rect x="453" y="498" width="1" height="1" fill="#db7070"/>
<rect x="456" y="498" width="3" height="1" fill="#d65c5c"/>
<rect x="461" y="497" width="3" height="2" fill="#d65c5c"/>
<rect x="462" y="498" width="1" height="1" fill="#db7070"/>
<rect x="465" y="496" width="3" height="3" fill="#4bcf4b"/>
<rect x="466" y="497" width="1" height="2" fill="#66dc66"/>
<rect x="469" y="496" width="3" height="3" fill="#d65c5c"/>
<rect x="470" y="497" width="1" height="2" fill="#db7070"/>
<rect x="473" y="494" width="3" height="5" fill="#4bcf4b"/>
<rect x="474" y="495" width="1" height="4" fill="#66dc66"/>
<rect x="478" y="497" width="3" height="2" fill="#d65c5c"/>
<rect x="479" y="498" width="1" height="1" fill="#db7070"/>
<rect x="482" y="496" width="3" height="3" fill="#d65c5c"/>
<rect x="483" y="497" width="1" height="2" fill="#db7070"/>
<rect x="486" y="498" width="3" height="1" fill="#4bcf4b"/>
<rect x="490" y="495" width="3" height="4" fill="#d65c5c"/>
<rect x="491" y="496" width="1" height="3" fill="#db7070"/>
<rect x="494" y="493" width="3" height="6" fill="#d65c5c"/>
<rect x="495" y="494" width="1" height="5" fill="#db7070"/>
<rect x="499" y="497" width="3" height="2" fill="#4bcf4b"/>
<rect x="500" y="498" width="1" height="1" fill="#66dc66"/>
<rect x="503" y="498" width="3" height="1" fill="#d65c5c"/>
<rect x="507" y="497" width="3" height="2" fill="#d65c5c"/>
<rect x="508" y="498" width="1" height="1" fill="#db7070"/>
<rect x="511" y="497" width="3" height="2" fill="#d65c5c"/>
<rect x="512" y="498" width="1" height="1" fill="#db7070"/>
<rect x="516" y="496" width="3" height="3" fill="#d65c5c"/>
<rect x="517" y="497" width="1" height="2" fill="#db7070"/>
<rect x="520" y="496" width="3" height="3" fill="#4bcf4b"/>
<rect x="521" y="497" width="1" height="2" fill="#66dc66"/>
<rect x="524" y="497" width="3" height="2" fill="#4bcf4b"/>
<rect x="525" y="498" width="1" height="1" fill="#66dc66"/>
<rect x="528" y="497" width="3" height="2" fill="#d65c5c"/>
<rect x="529" y="498" width="1" height="1" fill="#db7070"/>
<rect x="533" y="494" width="3" height="5" fill="#4bcf4b"/>
<rect x="534" y="495" width="1" height="4" fill="#66dc66"/>
<rect x="537" y="495" width="3" height="4" fill="#4bcf4b"/>
<rect x="538" y="496" width="1" height="3" fill="#66dc66"/>
<rect x="541" y="497" width="3" height="2" fill="#d65c5c"/>
<rect x="542" y="498" width="1" height="1" fill="#db7070"/>
<rect x="545" y="495" width="3" height="4" fill="#4bcf4b"/>
<rect x="546" y="496" width="1" height="3" fill="#66dc66"/>
<rect x="550" y="488" width="3" height="11" fill="#4bcf4b"/>
<rect x="551" y="489" width="1" height="10" fill="#66dc66"/>
<rect x="554" y="489" width="3" height="10" fill="#d65c5c"/>
<rect x="555" y="490" width="1" height="9" fill="#db7070"/>
<rect x="558" y="495" width="3" height="4" fill="#d65c5c"/>
<rect x="559" y="496" width="1" height="3" fill="#db7070"/>
<rect x="562" y="495" width="3" height="4" fill="#4bcf4b"/>
<rect x="563" y="496" width="1" height="3" fill="#66dc66"/>
<rect x="567" y="495" width="3" height="4" fill="#4bcf4b"/>
<rect x="568" y="496" width="1" height="3" fill="#66dc66"/>
<rect x="571" y="495" width="3" height="4" fill="#d65c5c"/>
<rect x="572" y="496" width="1" height="3" fill="#db7070"/>
<rect x="575" y="495" width="3" height="4" fill="#4bcf4b"/>
<rect x="576" y="496" width="1" height="3" fill="#66dc66"/>
<rect x="579" y="496" width="3" height="3" fill="#4bcf4b"/>
<rect x="580" y="497" width="1" height="2" fill="#66dc66"/>
<rect x="583" y="494" width="3" height="5" fill="#d65c5c"/>
<rect x="584" y="495" width="1" height="4" fill="#db7070"/>
<rect x="588" y="496" width="3" height="3" fill="#4bcf4b"/>
<rect x="589" y="497" width="1" height="2" fill="#66dc66"/>
<rect x="592" y="494" width="3" height="5" fill="#d65c5c"/>
<rect x="593" y="495" width="1" height="4" fill="#db7070"/>
<rect x="596" y="486" width="3" height="13" fill="#d65c5c"/>
<rect x="597" y="487" width="1" height="12" fill="#db7070"/>
<rect x="600" y="478" width="3" height="21" fill="#4bcf4b"/>
<rect x="601" y="479" width="1" height="20" fill="#66dc66"/>
<rect x="605" y="471" width="3" height="28" fill="#d65c5c"/>
<rect x="606" y="472" width="1" height="27" fill="#db7070"/>
<rect x="609" y="431" width="3" height="68" fill="#d65c5c"/>
<rect x="610" y="432" width="1" height="67" fill="#db7070"/>
<rect x="613" y="450" width="3" height="49" fill="#4bcf4b"/>
<rect x="614" y="451" width="1" height="48" fill="#66dc66"/>
<rect x="617" y="478" width="3" height="21" fill="#4bcf4b"/>
<rect x="618" y="479" width="1" height="20" fill="#66dc66"/>
<rect x="622" y="482" width="3" height="17" fill="#d65c5c"/>
<rect x="623" y="483" width="1" height="16" fill="#db7070"/>
<rect x="626" y="457" width="3" height="42" fill="#4bcf4b"/>
<rect x="627" y="458" width="1" height="41" fill="#66dc66"/>
<rect x="630" y="486" width="3" height="13" fill="#d65c5c"/>
<rect x="631" y="487" width="1" height="12" fill="#db7070"/>
<rect x="634" y="491" width="3" height="8" fill="#4bcf4b"/>
<rect x="635" y="492" width="1" height="7" fill="#66dc66"/>
<rect x="639" y="473" width="3" height="26" fill="#4bcf4b"/>
<rect x="640" y="474" width="1" height="25" fill="#66dc66"/>
<rect x="643" y="489" width="3" height="10" fill="#d65c5c"/>
<rect x="644" y="490" width="1" height="9" fill="#db7070"/>
<rect x="647" y="486" width="3" height="13" fill="#d65c5c"/>
<rect x="648" y="487" width="1" height="12" fill="#db7070"/>
<rect x="651" y="493" width="3" height="6" fill="#4bcf4b"/>
<rect x="652" y="494" width="1" height="5" fill="#66dc66"/>
<rect x="655" y="478" width="3" height="21" fill="#d65c5c"/>
<rect x="656" y="479" width="1" height="20" fill="#db7070"/>
<rect x="660" y="490" width="3" height="9" fill="#d65c5c"/>
<rect x="661" y="491" width="1" height="8" fill="#db7070"/>
<rect x="664" y="489" width="3" height="10" fill="#4bcf4b"/>
<rect x="665" y="490" width="1" height="9" fill="#66dc66"/>
<rect x="668" y="493" width="3" height="6" fill="#4bcf4b"/>
<rect x="669" y="494" width="1" height="5" fill="#66dc66"/>
<rect x="672" y="474" width="3" height="25" fill="#4bcf4b"/>
<rect x="673" y="475" width="1" height="24" fill="#66dc66"/>
<rect x="677" y="454" width="3" height="45" fill="#4bcf4b"/>
<rect x="678" y="455" width="1" height="44" fill="#66dc66"/>
<rect x="681" y="476" width="3" height="23" fill="#4bcf4b"/>
<rect x="682" y="477" width="1" height="22" fill="#66dc66"/>
</g>
<filter id="idf" x="0" y="0" width="726" height="508" filterUnits="userSpaceOnUse" color-interpolation-filters="sRGB"><feOffset dx="0" dy="0"/></filter>
<g font-size="10px" fill="#000" filter="url(#idf)">
<text x="687.8" y="40" textLength="14.7" lengthAdjust="spacing">3,2</text>
<text x="687.8" y="62" textLength="14.7" lengthAdjust="spacing">3,0</text>
<text x="687.8" y="84" textLength="14.7" lengthAdjust="spacing">2,8</text>
<text x="687.8" y="109" textLength="14.7" lengthAdjust="spacing">2,6</text>
<text x="687.8" y="136" textLength="14.7" lengthAdjust="spacing">2,4</text>
<text x="687.8" y="165" textLength="14.7" lengthAdjust="spacing">2,2</text>
<text x="687.8" y="196" textLength="14.7" lengthAdjust="spacing">2,0</text>
<text x="687.8" y="231" textLength="14.7" lengthAdjust="spacing">1,8</text>
<text x="687.8" y="270" textLength="14.7" lengthAdjust="spacing">1,6</text>
<text x="687.8" y="315" textLength="14.7" lengthAdjust="spacing">1,4</text>
<text x="687.8" y="366" textLength="14.7" lengthAdjust="spacing">1,2</text>
<text x="687.8" y="424" textLength="24.0" lengthAdjust="spacing">2,0M</text>
<text x="687.8" y="444" textLength="24.0" lengthAdjust="spacing">1,5M</text>
<text x="687.8" y="464" textLength="24.0" lengthAdjust="spacing">1,0M</text>
<text x="687.8" y="484" textLength="24.0" lengthAdjust="spacing">0,5M</text>
<text x="687.8" y="504" textLength="24.0" lengthAdjust="spacing">0,0M</text>
<text x="48.7" y="382.6" textLength="14.2" lengthAdjust="spacing">Juli</text>
<text x="105.0" y="382.6" textLength="19.8" lengthAdjust="spacing">Okt.</text>
<text x="161.2" y="382.6" textLength="18.5" lengthAdjust="spacing">Jan.</text>
<text x="213.5" y="382.6" textLength="21.0" lengthAdjust="spacing">April</text>
<text x="272.7" y="382.6" textLength="14.2" lengthAdjust="spacing">Juli</text>
<text x="326.0" y="382.6" textLength="19.8" lengthAdjust="spacing">Okt.</text>
<text x="382.2" y="382.6" textLength="18.5" lengthAdjust="spacing">Jan.</text>
<text x="434.5" y="382.6" textLength="21.0" lengthAdjust="spacing">April</text>
<text x="493.7" y="382.6" textLength="14.2" lengthAdjust="spacing">Juli</text>
<text x="546.0" y="382.6" textLength="19.8" lengthAdjust="spacing">Okt.</text>
<text x="602.2" y="382.6" textLength="18.5" lengthAdjust="spacing">Jan.</text>
<text x="654.5" y="382.6" textLength="21.0" lengthAdjust="spacing">April</text>
<text x="157.5" y="395.2" textLength="24.0" lengthAdjust="spacing">2013</text>
<text x="378.5" y="395.2" textLength="24.0" lengthAdjust="spacing">2014</text>
<text x="598.5" y="395.2" textLength="24.0" lengthAdjust="spacing">2015</text>
<text x="7.9" y="369.1" textLength="76.8" lengthAdjust="spacing" fill="#a0a0a0">1 Tick = 1 Woche</text>
<rect x="3" y="2" width="8" height="8" fill="#000" shape-rendering="crispEdges"/>
<rect x="4" y="3" width="6" height="6" fill="#3cf23c" shape-rendering="crispEdges"/>
<text x="14.9" y="10" textLength="26.3" lengthAdjust="spacing">WCM</text>
<text x="44.7" y="10" textLength="53.4" lengthAdjust="spacing">Beteiligungs</text>
<text x="99.1" y="10" textLength="5.5" lengthAdjust="spacing">–</text>
<text x="108.6" y="10" textLength="17.1" lengthAdjust="spacing">und</text>
<text x="129.6" y="10" textLength="54.8" lengthAdjust="spacing">Grundbesitz</text>
<text x="188.1" y="10" textLength="51.5" lengthAdjust="spacing">(Frankfurt)</text>
<rect x="263" y="2" width="8" height="8" fill="#000" shape-rendering="crispEdges"/>
<rect x="264" y="3" width="6" height="6" fill="#0000ff" shape-rendering="crispEdges"/>
<text x="274.6" y="10" textLength="14.6" lengthAdjust="spacing">GD</text>
<text x="291.7" y="10" textLength="11.8" lengthAdjust="spacing">38</text>
<text x="305.8" y="10" textLength="26.1" lengthAdjust="spacing">Tage:</text>
<text x="336.1" y="10" textLength="32.5" lengthAdjust="spacing">1,9472</text>
<rect x="393" y="2" width="8" height="8" fill="#000" shape-rendering="crispEdges"/>
<rect x="394" y="3" width="6" height="6" fill="#ff0000" shape-rendering="crispEdges"/>
<text x="405.2" y="10" textLength="14.6" lengthAdjust="spacing">GD</text>
<text x="423.7" y="10" textLength="17.9" lengthAdjust="spacing">100</text>
<text x="443.5" y="10" textLength="25.6" lengthAdjust="spacing">Tage:</text>
<text x="473.3" y="10" textLength="31.1" lengthAdjust="spacing">1,7579</text>
<rect x="529" y="2" width="8" height="8" fill="#000" shape-rendering="crispEdges"/>
<rect x="530" y="3" width="6" height="6" fill="#a8c0f4" shape-rendering="crispEdges"/>
<rect x="531" y="4" width="4" height="4" fill="#98aede" shape-rendering="crispEdges"/>
<text x="541.3" y="10" textLength="42.1" lengthAdjust="spacing">Donchian</text>
<text x="586.8" y="10" textLength="22.2" lengthAdjust="spacing">(20):</text>
<text x="613.8" y="10" textLength="25.0" lengthAdjust="spacing">1,331</text>
<text x="645.2" y="10" textLength="5.7" lengthAdjust="spacing">–</text>
<text x="653.1" y="10" textLength="21.3" lengthAdjust="spacing">2,85</text>
<rect x="3" y="406" width="8" height="8" fill="#000" shape-rendering="crispEdges"/>
<rect x="4" y="407" width="6" height="6" fill="#78ea78" shape-rendering="crispEdges"/>
<rect x="5" y="408" width="4" height="4" fill="#66dc66" shape-rendering="crispEdges"/>
<text x="14.9" y="414" textLength="26.3" lengthAdjust="spacing">WCM</text>
<text x="44.7" y="414" textLength="53.4" lengthAdjust="spacing">Beteiligungs</text>
<text x="99.1" y="414" textLength="5.5" lengthAdjust="spacing">–</text>
<text x="108.6" y="414" textLength="16.4" lengthAdjust="spacing">und</text>
<text x="129.5" y="414" textLength="54.9" lengthAdjust="spacing">Grundbesitz</text>
<text x="187.4" y="414" textLength="38.8" lengthAdjust="spacing">Volumen</text>
<text x="230.1" y="414" textLength="7.7" lengthAdjust="spacing">in</text>
<text x="241.5" y="414" textLength="21.0" lengthAdjust="spacing">Euro</text>
</g>
</svg>
</body></html>
